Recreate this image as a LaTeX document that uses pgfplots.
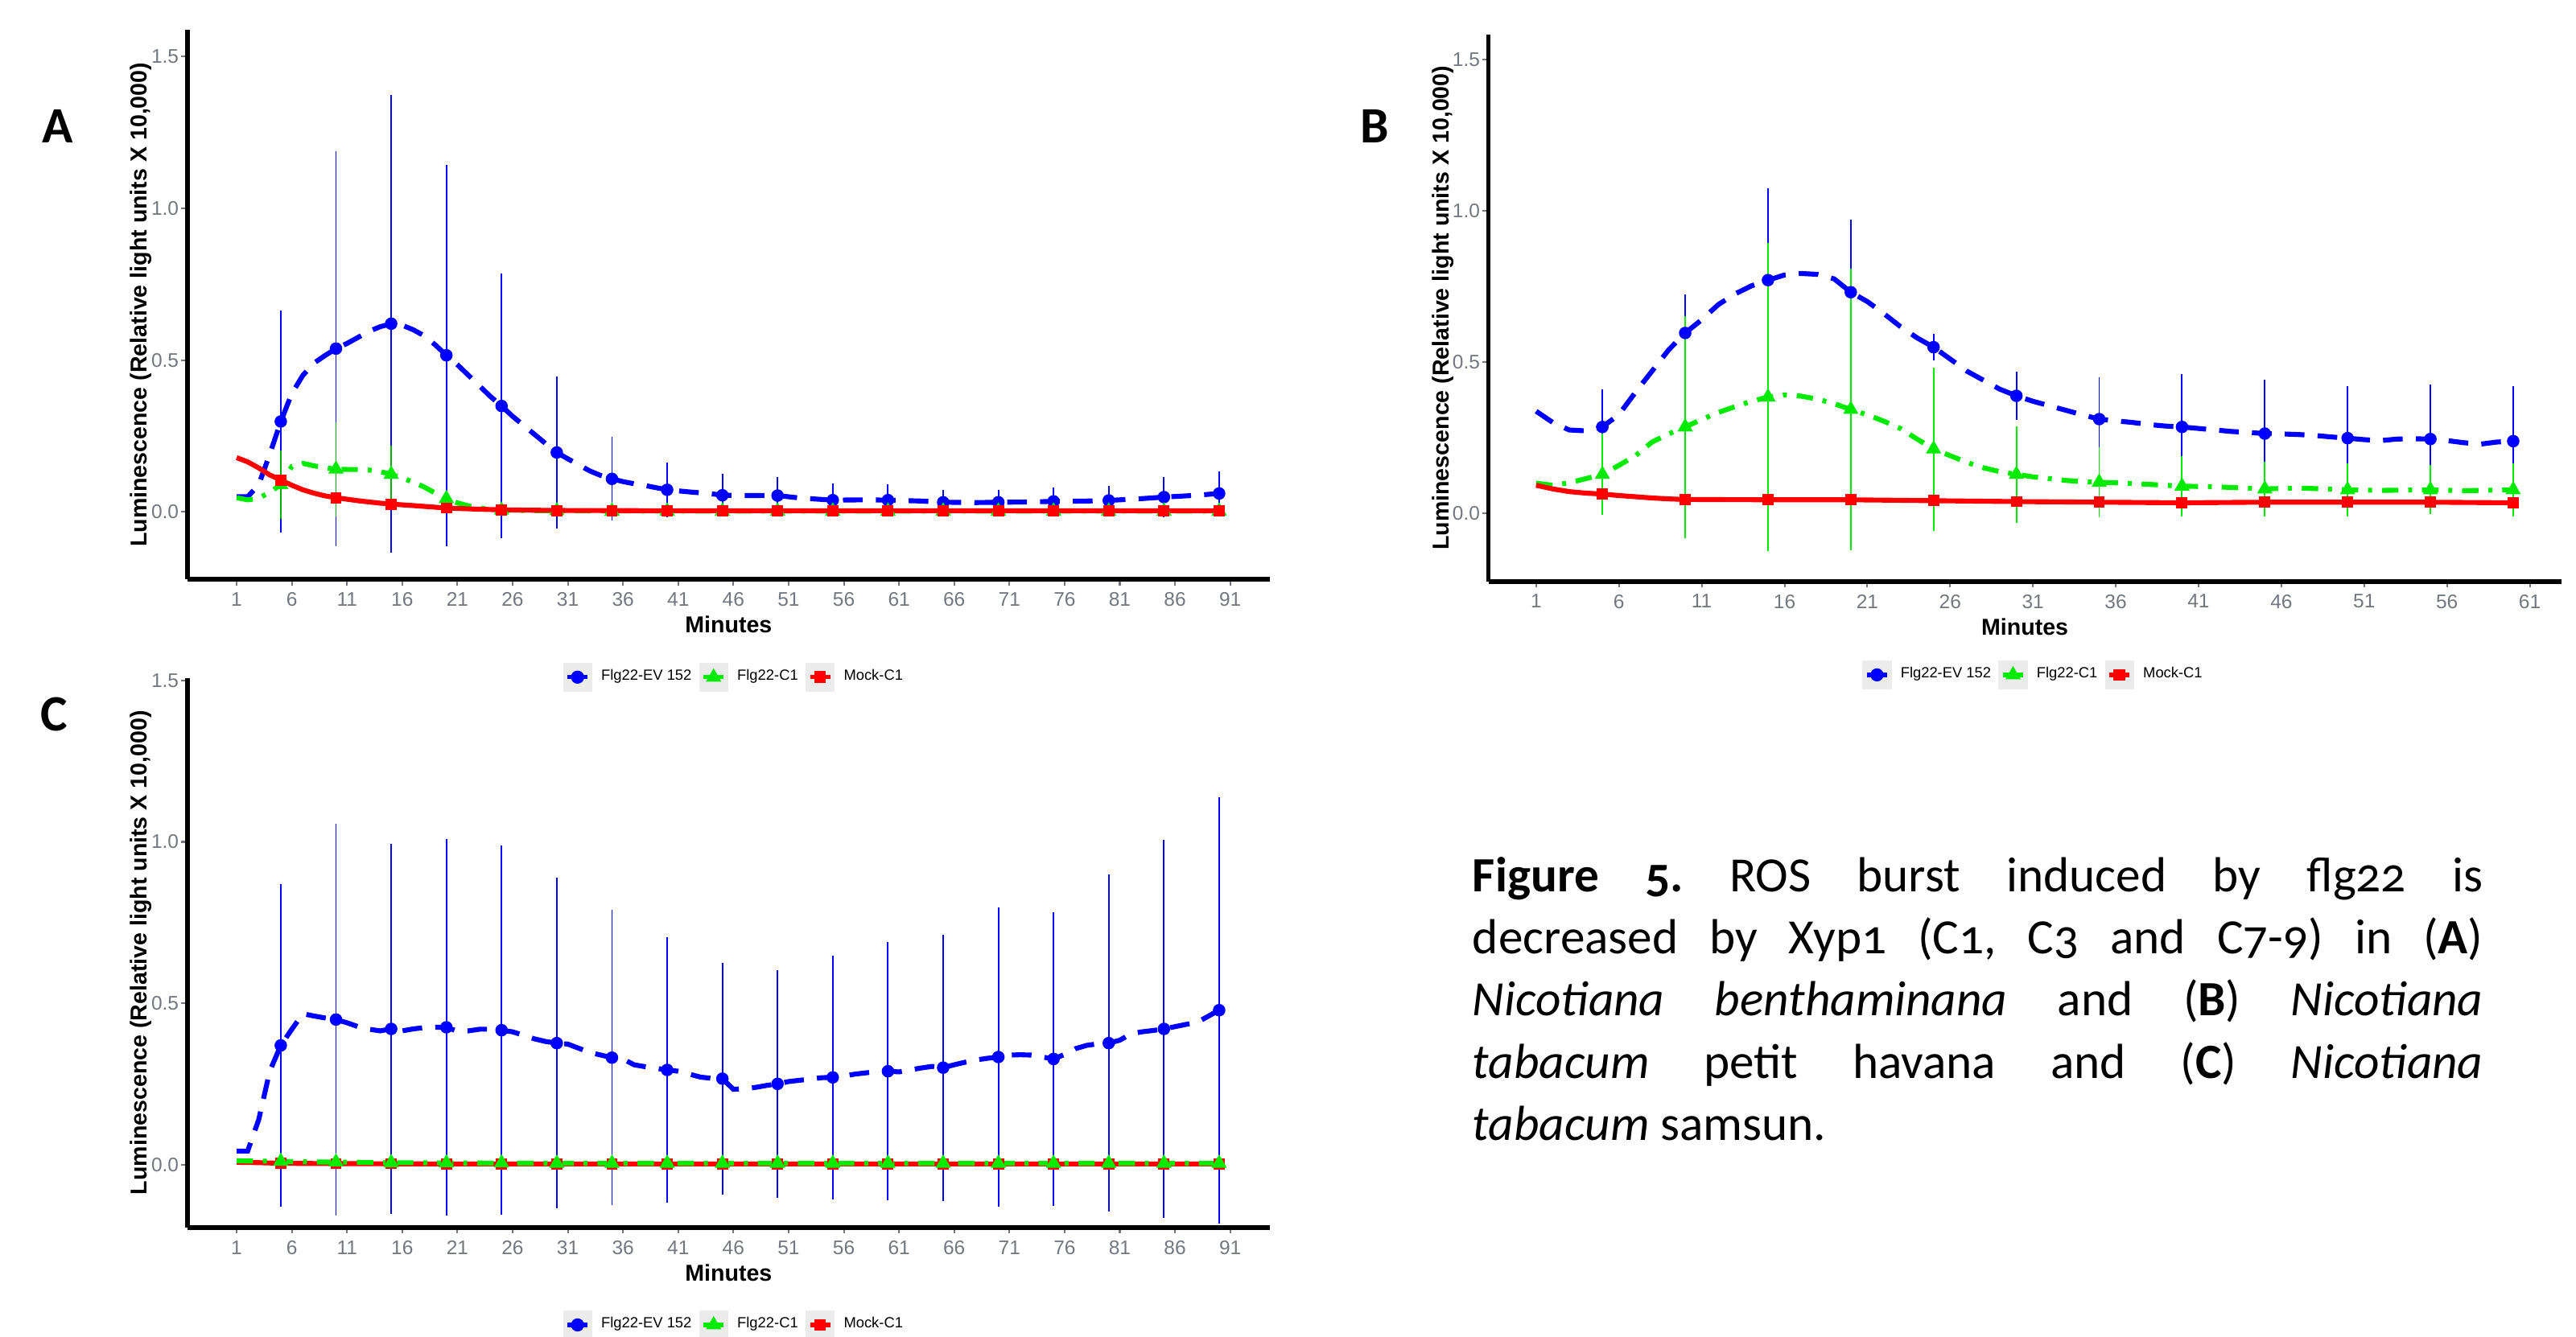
\documentclass[border=0pt]{standalone}
\usepackage{pgfplots}
\pgfplotsset{compat=1.18}
\usepackage{fontspec}
\setmainfont{Liberation Sans}
\newfontfamily\capfont{Carlito}[Numbers=OldStyle]
\newfontfamily\panelfont{Carlito}
\definecolor{cblue}{RGB}{0,0,255}
\definecolor{cgreen}{RGB}{0,235,0}
\definecolor{cred}{RGB}{255,0,0}
\definecolor{tickgray}{RGB}{115,120,128}
\definecolor{keygray}{RGB}{236,236,236}

\pgfplotsset{
  rosaxis/.style={
    scale only axis,
    axis x line*=bottom, axis y line*=left,
    axis line style={-, line width=1.4pt, black},
    tick align=outside,
    major tick length=1.8pt,
    tick style={tickgray, line width=0.5pt},
    ticklabel style={font=\fontsize{6}{7}\selectfont, text=tickgray},
    yticklabel style={inner sep=0.6pt},
    xticklabel style={inner sep=2pt},
    /pgf/number format/assume math mode=true,
    ytick={0,0.5,1,1.5}, yticklabels={0.0,0.5,1.0,1.5},
    ylabel={Luminescence (Relative light units X 10,000)},
    ylabel style={font=\bfseries\fontsize{7}{8}\selectfont, at={(axis description cs:-0.0426,0.5)}, anchor=center},
    xlabel={Minutes},
    xlabel style={font=\bfseries\fontsize{7}{8}\selectfont, at={(axis description cs:0.5,-0.0826)}, anchor=center},
    legend columns=3,
    legend style={draw=none, fill=none, font=\fontsize{4.5}{5}\selectfont, anchor=center,
      nodes={inner sep=0pt}, column sep=0pt,
      /tikz/every odd column/.append style={column sep=2.75pt},
      /tikz/every even column/.append style={column sep=2.25pt}},
    legend image code/.code={
      \fill[keygray] (0pt,-4.25pt) rectangle (8.5pt,4.25pt);
      \draw[##1, solid, line width=1.3pt] (1.2pt,0pt) -- (7.3pt,0pt);
      \draw[##1, solid] plot coordinates {(4.25pt,0pt)};
    },
  },
  ebar/.style={draw=none, mark=none, forget plot, error bars/.cd, y dir=both, y explicit,
     error bar style={draw=#1, line width=0.45pt, solid}, error mark=none},
  bline/.style={cblue, line width=1.5pt, dash pattern=on 6pt off 4pt, forget plot, mark=none},
  gline/.style={cgreen, line width=1.5pt, dash pattern=on 5pt off 3pt on 1.2pt off 3pt, forget plot, mark=none},
  rline/.style={cred, line width=1.5pt, solid, forget plot, mark=none},
  bmark/.style={cblue, only marks, mark=*, mark size=1.7pt, mark options={solid, fill=cblue, draw=cblue}, forget plot},
  gmark/.style={cgreen, only marks, mark=triangle*, mark size=2.3pt, mark options={solid, fill=cgreen, draw=cgreen}, forget plot},
  rmark/.style={cred, only marks, mark=square*, mark size=1.5pt, mark options={solid, fill=cred, draw=cred}, forget plot},
}

\begin{document}
\begin{tikzpicture}
\useasboundingbox (0,0) rectangle (784pt,407pt);

% ---------------- Panel A ----------------
\begin{axis}[rosaxis, at={(57pt,230.6pt)}, anchor=south west,
  width=329.5pt, height=167.25pt,
  xmin=-3.47, xmax=94.6, ymin=-0.222, ymax=1.587,
  xtick={1,6,...,91},
  legend style={at={(axis description cs:0.504,-0.178)}}]
\addlegendimage{cblue, mark=*, mark size=1.8pt}
\addlegendentry{Flg22-EV 152}
\addlegendimage{cgreen, mark=triangle*, mark size=2.3pt}
\addlegendentry{Flg22-C1}
\addlegendimage{cred, mark=square*, mark size=1.6pt}
\addlegendentry{Mock-C1}
% error bars
\addplot[ebar=cblue] coordinates {
(5,0.298) +- (0,0.366) (10,0.538) +- (0,0.650) (15,0.620) +- (0,0.754)
(20,0.516) +- (0,0.628) (25,0.349) +- (0,0.436) (30,0.196) +- (0,0.250)
(35,0.109) +- (0,0.138) (40,0.073) +- (0,0.090) (45,0.055) +- (0,0.071)
(50,0.054) +- (0,0.062) (55,0.039) +- (0,0.055) (60,0.039) +- (0,0.051)
(65,0.032) +- (0,0.041) (70,0.032) +- (0,0.041) (75,0.035) +- (0,0.045)
(80,0.038) +- (0,0.049) (85,0.049) +- (0,0.067) (90,0.061) +- (0,0.073)};
\addplot[ebar=cgreen!75!black] coordinates {
(5,0.090) +- (0,0.113) (10,0.141) +- (0,0.155) (15,0.124) +- (0,0.095)
(20,0.044) +- (0,0.025) (25,0.006) +- (0,0.010) (30,0.004) +- (0,0.008)
(35,0.003) +- (0,0.006) (40,0.003) +- (0,0.006) (45,0.003) +- (0,0.006)
(50,0.003) +- (0,0.006) (55,0.003) +- (0,0.006) (60,0.003) +- (0,0.006)
(65,0.003) +- (0,0.006) (70,0.003) +- (0,0.006) (75,0.003) +- (0,0.006)
(80,0.003) +- (0,0.006) (85,0.003) +- (0,0.006) (90,0.003) +- (0,0.006)};
\addplot[ebar=cred] coordinates {
(5,0.105) +- (0,0.012) (10,0.047) +- (0,0.012) (15,0.026) +- (0,0.010)
(20,0.013) +- (0,0.008) (25,0.007) +- (0,0.006) (30,0.004) +- (0,0.005)
(35,0.004) +- (0,0.005) (40,0.004) +- (0,0.005) (45,0.004) +- (0,0.005)
(50,0.004) +- (0,0.005) (55,0.004) +- (0,0.005) (60,0.004) +- (0,0.005)
(65,0.004) +- (0,0.005) (70,0.004) +- (0,0.005) (75,0.004) +- (0,0.005)
(80,0.004) +- (0,0.005) (85,0.004) +- (0,0.005) (90,0.004) +- (0,0.005)};
% lines
\addplot[bline] coordinates {
(1,0.050)(2,0.050)(3,0.090)(4,0.190)(5,0.298)(6,0.390)(7,0.450)(8,0.490)(9,0.515)(10,0.538)
(11,0.555)(12,0.575)(13,0.595)(14,0.610)(15,0.620)(16,0.615)(17,0.600)(18,0.580)(19,0.550)(20,0.516)
(21,0.485)(22,0.450)(23,0.415)(24,0.380)(25,0.349)(26,0.315)(27,0.285)(28,0.255)(29,0.225)(30,0.196)
(31,0.175)(32,0.155)(33,0.135)(34,0.120)(35,0.109)(36,0.100)(37,0.093)(38,0.087)(39,0.080)(40,0.073)
(42,0.066)(44,0.060)(45,0.055)(47,0.054)(50,0.054)(52,0.046)(55,0.039)(58,0.040)(60,0.039)(63,0.036)
(65,0.032)(68,0.031)(70,0.032)(73,0.033)(75,0.035)(78,0.036)(80,0.038)(83,0.044)(85,0.049)(88,0.055)(90,0.061)};
\addplot[gline] coordinates {
(1,0.047)(2,0.040)(3,0.045)(4,0.065)(5,0.090)(6,0.150)(7,0.160)(8,0.152)(9,0.146)(10,0.141)
(11,0.140)(12,0.140)(13,0.138)(14,0.133)(15,0.124)(16,0.112)(17,0.098)(18,0.082)(19,0.062)(20,0.044)
(21,0.030)(22,0.020)(23,0.013)(24,0.009)(25,0.006)(28,0.004)(30,0.004)(40,0.003)(60,0.003)(90,0.003)};
\addplot[rline] coordinates {
(1,0.179)(2,0.165)(3,0.145)(4,0.122)(5,0.105)(6,0.088)(7,0.073)(8,0.062)(9,0.053)(10,0.047)
(11,0.042)(12,0.037)(13,0.033)(14,0.029)(15,0.026)(17,0.021)(20,0.013)(23,0.009)(25,0.007)(30,0.005)
(40,0.004)(90,0.004)};
% markers
\addplot[bmark] coordinates {
(5,0.298)(10,0.538)(15,0.620)(20,0.516)(25,0.349)(30,0.196)(35,0.109)(40,0.073)(45,0.055)
(50,0.054)(55,0.039)(60,0.039)(65,0.032)(70,0.032)(75,0.035)(80,0.038)(85,0.049)(90,0.061)};
\addplot[gmark] coordinates {
(5,0.090)(10,0.141)(15,0.124)(20,0.044)(25,0.006)(30,0.004)(35,0.003)(40,0.003)(45,0.003)
(50,0.003)(55,0.003)(60,0.003)(65,0.003)(70,0.003)(75,0.003)(80,0.003)(85,0.003)(90,0.003)};
\addplot[rmark] coordinates {
(5,0.105)(10,0.047)(15,0.026)(20,0.013)(25,0.007)(30,0.004)(35,0.004)(40,0.004)(45,0.004)
(50,0.004)(55,0.004)(60,0.004)(65,0.004)(70,0.004)(75,0.004)(80,0.004)(85,0.004)(90,0.004)};
\end{axis}

% ---------------- Panel B ----------------
\begin{axis}[rosaxis, at={(453pt,230pt)}, anchor=south west,
  width=326.5pt, height=166.5pt,
  xmin=-1.88, xmax=62.9, ymin=-0.226, ymax=1.584,
  xtick={1,6,...,61},
  legend style={at={(axis description cs:0.507,-0.171)}}]
\addlegendimage{cblue, mark=*, mark size=1.8pt}
\addlegendentry{Flg22-EV 152}
\addlegendimage{cgreen, mark=triangle*, mark size=2.3pt}
\addlegendentry{Flg22-C1}
\addlegendimage{cred, mark=square*, mark size=1.6pt}
\addlegendentry{Mock-C1}
\addplot[ebar=cblue] coordinates {
(5,0.285) +- (0,0.124) (10,0.596) +- (0,0.127) (15,0.771) +- (0,0.303)
(20,0.731) +- (0,0.241) (25,0.549) +- (0,0.044) (30,0.388) +- (0,0.079)
(35,0.311) +- (0,0.139) (40,0.285) +- (0,0.175) (45,0.263) +- (0,0.179)
(50,0.248) +- (0,0.172) (55,0.245) +- (0,0.180) (60,0.238) +- (0,0.182)};
\addplot[ebar=cgreen] coordinates {
(5,0.128) +- (0,0.135) (10,0.285) +- (0,0.367) (15,0.384) +- (0,0.511)
(20,0.343) +- (0,0.465) (25,0.212) +- (0,0.270) (30,0.128) +- (0,0.160)
(35,0.102) +- (0,0.117) (40,0.089) +- (0,0.100) (45,0.080) +- (0,0.090)
(50,0.077) +- (0,0.088) (55,0.077) +- (0,0.081) (60,0.077) +- (0,0.088)};
\addplot[ebar=cred] coordinates {
(5,0.063) +- (0,0.010) (10,0.045) +- (0,0.010) (15,0.044) +- (0,0.010)
(20,0.044) +- (0,0.010) (25,0.041) +- (0,0.010) (30,0.038) +- (0,0.010)
(35,0.036) +- (0,0.010) (40,0.034) +- (0,0.010) (45,0.036) +- (0,0.010)
(50,0.036) +- (0,0.010) (55,0.036) +- (0,0.010) (60,0.034) +- (0,0.010)};
\addplot[bline] coordinates {
(1,0.337)(2,0.300)(3,0.275)(4,0.272)(5,0.285)(6,0.326)(7,0.400)(8,0.470)(9,0.540)(10,0.596)
(11,0.640)(12,0.690)(13,0.725)(14,0.752)(15,0.771)(16,0.788)(17,0.793)(18,0.790)(19,0.775)(20,0.731)
(21,0.700)(22,0.660)(23,0.617)(24,0.580)(25,0.549)(26,0.510)(27,0.470)(28,0.440)(29,0.410)(30,0.388)
(31,0.370)(32,0.355)(33,0.340)(34,0.325)(35,0.311)(36,0.305)(37,0.300)(38,0.293)(39,0.288)(40,0.285)
(41,0.280)(42,0.275)(43,0.270)(44,0.267)(45,0.263)(46,0.262)(47,0.260)(48,0.257)(49,0.252)(50,0.248)
(51,0.243)(52,0.240)(53,0.245)(54,0.246)(55,0.245)(56,0.240)(57,0.233)(58,0.228)(59,0.235)(60,0.238)};
\addplot[gline] coordinates {
(1,0.099)(2,0.092)(3,0.100)(4,0.114)(5,0.128)(6,0.158)(7,0.190)(8,0.235)(9,0.262)(10,0.285)
(11,0.310)(12,0.333)(13,0.352)(14,0.370)(15,0.384)(16,0.391)(17,0.387)(18,0.377)(19,0.362)(20,0.343)
(21,0.325)(22,0.304)(23,0.280)(24,0.245)(25,0.212)(26,0.190)(27,0.168)(28,0.150)(29,0.137)(30,0.128)
(31,0.120)(32,0.114)(33,0.108)(34,0.104)(35,0.102)(37,0.098)(40,0.089)(42,0.087)(45,0.080)(47,0.083)
(50,0.077)(52,0.075)(55,0.077)(57,0.074)(60,0.077)};
\addplot[rline] coordinates {
(1,0.092)(2,0.080)(3,0.071)(4,0.066)(5,0.063)(6,0.058)(7,0.054)(8,0.050)(9,0.047)(10,0.045)
(15,0.044)(20,0.044)(25,0.041)(30,0.038)(35,0.036)(40,0.034)(45,0.036)(50,0.036)(55,0.036)(60,0.034)};
\addplot[bmark] coordinates {
(5,0.285)(10,0.596)(15,0.771)(20,0.731)(25,0.549)(30,0.388)(35,0.311)(40,0.285)(45,0.263)
(50,0.248)(55,0.245)(60,0.238)};
\addplot[gmark] coordinates {
(5,0.128)(10,0.285)(15,0.384)(20,0.343)(25,0.212)(30,0.128)(35,0.102)(40,0.089)(45,0.080)
(50,0.077)(55,0.077)(60,0.077)};
\addplot[rmark] coordinates {
(5,0.063)(10,0.045)(15,0.044)(20,0.044)(25,0.041)(30,0.038)(35,0.036)(40,0.034)(45,0.036)
(50,0.036)(55,0.036)(60,0.034)};
\end{axis}

% ---------------- Panel C ----------------
\begin{axis}[rosaxis, at={(57pt,33.25pt)}, anchor=south west,
  width=329.5pt, height=167.4pt,
  xmin=-3.47, xmax=94.6, ymin=-0.194, ymax=1.508,
  xtick={1,6,...,91},
  legend style={at={(axis description cs:0.504,-0.177)}}]
\addlegendimage{cblue, mark=*, mark size=1.8pt}
\addlegendentry{Flg22-EV 152}
\addlegendimage{cgreen, mark=triangle*, mark size=2.3pt}
\addlegendentry{Flg22-C1}
\addlegendimage{cred, mark=square*, mark size=1.6pt}
\addlegendentry{Mock-C1}
\addplot[ebar=cblue] coordinates {
(5,0.370) +- (0,0.499) (10,0.450) +- (0,0.606) (15,0.421) +- (0,0.572)
(20,0.426) +- (0,0.583) (25,0.417) +- (0,0.572) (30,0.377) +- (0,0.511)
(35,0.332) +- (0,0.457) (40,0.294) +- (0,0.411) (45,0.267) +- (0,0.359)
(50,0.251) +- (0,0.353) (55,0.271) +- (0,0.377) (60,0.290) +- (0,0.399)
(65,0.301) +- (0,0.412) (70,0.334) +- (0,0.464) (75,0.328) +- (0,0.454)
(80,0.377) +- (0,0.521) (85,0.421) +- (0,0.584) (90,0.479) +- (0,0.660)};
\addplot[ebar=cgreen] coordinates {
(5,0.011) +- (0,0.008) (10,0.009) +- (0,0.008) (15,0.007) +- (0,0.008)
(20,0.006) +- (0,0.008) (25,0.006) +- (0,0.008) (30,0.005) +- (0,0.008)
(35,0.005) +- (0,0.008) (40,0.005) +- (0,0.008) (45,0.005) +- (0,0.008)
(50,0.005) +- (0,0.008) (55,0.005) +- (0,0.008) (60,0.005) +- (0,0.008)
(65,0.005) +- (0,0.008) (70,0.005) +- (0,0.008) (75,0.005) +- (0,0.008)
(80,0.005) +- (0,0.008) (85,0.005) +- (0,0.008) (90,0.005) +- (0,0.008)};
\addplot[ebar=cred] coordinates {
(5,0.005) +- (0,0.006) (10,0.004) +- (0,0.006) (15,0.004) +- (0,0.006)
(20,0.003) +- (0,0.006) (25,0.003) +- (0,0.006) (30,0.003) +- (0,0.006)
(35,0.003) +- (0,0.006) (40,0.003) +- (0,0.006) (45,0.003) +- (0,0.006)
(50,0.003) +- (0,0.006) (55,0.003) +- (0,0.006) (60,0.003) +- (0,0.006)
(65,0.003) +- (0,0.006) (70,0.003) +- (0,0.006) (75,0.003) +- (0,0.006)
(80,0.003) +- (0,0.006) (85,0.003) +- (0,0.006) (90,0.003) +- (0,0.006)};
\addplot[bline] coordinates {
(1,0.043)(2,0.043)(3,0.140)(4,0.290)(5,0.370)(6,0.420)(7,0.468)(8,0.461)(9,0.455)(10,0.450)
(11,0.440)(12,0.428)(13,0.420)(14,0.415)(15,0.421)(16,0.415)(17,0.421)(18,0.425)(19,0.426)(20,0.426)
(21,0.414)(22,0.415)(23,0.420)(24,0.420)(25,0.417)(26,0.412)(27,0.401)(28,0.390)(29,0.382)(30,0.377)
(31,0.374)(32,0.361)(33,0.348)(34,0.340)(35,0.332)(36,0.328)(37,0.310)(38,0.304)(39,0.299)(40,0.294)
(41,0.290)(42,0.281)(43,0.272)(44,0.268)(45,0.267)(46,0.234)(47,0.236)(48,0.240)(49,0.246)(50,0.251)
(51,0.258)(52,0.262)(53,0.266)(54,0.270)(55,0.271)(56,0.275)(57,0.281)(58,0.285)(59,0.289)(60,0.290)
(61,0.288)(62,0.294)(63,0.300)(64,0.305)(65,0.301)(66,0.310)(67,0.318)(68,0.325)(69,0.330)(70,0.334)
(71,0.340)(72,0.341)(73,0.340)(74,0.334)(75,0.328)(76,0.342)(77,0.360)(78,0.370)(79,0.375)(80,0.377)
(81,0.386)(82,0.406)(83,0.412)(84,0.416)(85,0.421)(86,0.428)(87,0.435)(88,0.441)(89,0.460)(90,0.479)};
\addplot[rline] coordinates {
(1,0.008)(3,0.007)(5,0.005)(10,0.004)(20,0.003)(90,0.003)};
\addplot[gline] coordinates {
(1,0.013)(2,0.012)(3,0.012)(5,0.011)(8,0.009)(10,0.009)(15,0.007)(20,0.006)(30,0.005)(50,0.005)(90,0.005)};
\addplot[bmark] coordinates {
(5,0.370)(10,0.450)(15,0.421)(20,0.426)(25,0.417)(30,0.377)(35,0.332)(40,0.294)(45,0.267)
(50,0.251)(55,0.271)(60,0.290)(65,0.301)(70,0.334)(75,0.328)(80,0.377)(85,0.421)(90,0.479)};
\addplot[rmark] coordinates {
(5,0.005)(10,0.004)(15,0.004)(20,0.003)(25,0.003)(30,0.003)(35,0.003)(40,0.003)(45,0.003)
(50,0.003)(55,0.003)(60,0.003)(65,0.003)(70,0.003)(75,0.003)(80,0.003)(85,0.003)(90,0.003)};
\addplot[gmark] coordinates {
(5,0.011)(10,0.009)(15,0.007)(20,0.006)(25,0.006)(30,0.005)(35,0.005)(40,0.005)(45,0.005)
(50,0.005)(55,0.005)(60,0.005)(65,0.005)(70,0.005)(75,0.005)(80,0.005)(85,0.005)(90,0.005)};
\end{axis}

% panel letters
\node[font=\panelfont\bfseries\fontsize{15.5}{16}\selectfont, inner sep=0pt] at (17.5pt,368.5pt) {A};
\node[font=\panelfont\bfseries\fontsize{15.5}{16}\selectfont, inner sep=0pt] at (418.5pt,368.5pt) {B};
\node[font=\panelfont\bfseries\fontsize{15.5}{16}\selectfont, inner sep=0pt] at (16.5pt,189.5pt) {C};

% caption
\node[anchor=base west, inner sep=0pt] at (448pt,135.5pt) {\parbox[t]{307.5pt}{\capfont\fontsize{15}{18.9}\selectfont\frenchspacing
\textbf{Figure 5.} ROS burst induced by flg22 is\linebreak
decreased by Xyp1 (C1, C3 and C7-9) in (\textbf{A})\linebreak
\textit{Nicotiana benthaminana} and (\textbf{B}) \textit{Nicotiana}\linebreak
\textit{tabacum} petit havana and (\textbf{C}) \textit{Nicotiana}\linebreak
\textit{tabacum} samsun.}};
\end{tikzpicture}
\end{document}
